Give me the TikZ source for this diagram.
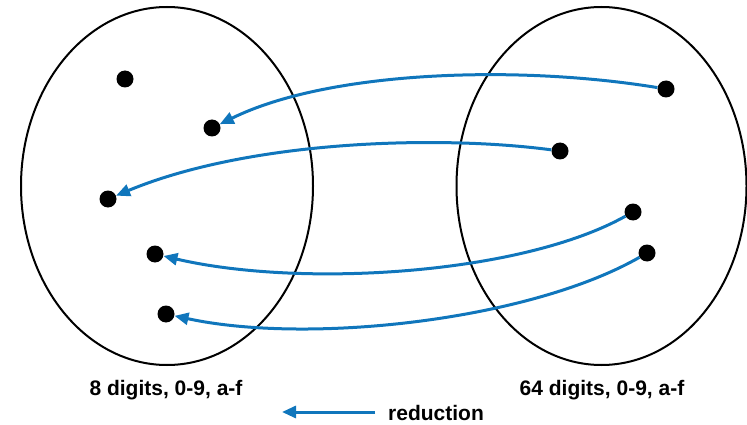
\documentclass[tikz,border=0pt]{standalone}
\usepackage{fontspec}
\setmainfont{Liberation Sans}
\usetikzlibrary{arrows.meta}
\definecolor{linkblue}{RGB}{16,118,188}
\begin{document}
\begin{tikzpicture}[x=1pt,y=-1pt,
  setshape/.style={draw=black,line width=2pt},
  elem/.style={circle,fill=black,minimum size=17pt,inner sep=0pt},
  maplink/.style={draw=linkblue,line width=3pt,-{Triangle[length=14pt,width=12pt]}},
  caption/.style={font=\fontsize{21}{24}\selectfont\bfseries,inner sep=0pt}]
\useasboundingbox (0,0) rectangle (747,425);
\draw[setshape] (167,186) ellipse [x radius=146, y radius=179];
\draw[setshape] (601.5,186) ellipse [x radius=145, y radius=179];
% left set
\node[elem] (l1) at (125,79) {};
\node[elem] (l2) at (212,128) {};
\node[elem] (l3) at (108,199) {};
\node[elem] (l4) at (155,254) {};
\node[elem] (l5) at (166,314) {};
% right set
\node[elem] (r1) at (666,89) {};
\node[elem] (r2) at (560,151) {};
\node[elem] (r3) at (633,212) {};
\node[elem] (r4) at (647,253) {};
% mappings
\draw[maplink] (r1) .. controls (520,65) and (330,70) .. (l2);
\draw[maplink] (r2) .. controls (440,135) and (250,140) .. (l3);
\draw[maplink] (r3) .. controls (520,275) and (300,288) .. (l4);
\draw[maplink] (r4) .. controls (530,320) and (310,345) .. (l5);
% labels
\node[caption] (cl) at (166,390) {8 digits, 0-9, a-f};
\node[caption] (cr) at (602,390) {64 digits, 0-9, a-f};
% legend
\coordinate (legs) at (375,412);
\coordinate (lege) at (282,412);
\draw[maplink] (legs) -- (lege);
\node[caption,anchor=west] (legt) at (388,413) {reduction};
\end{tikzpicture}
\end{document}
